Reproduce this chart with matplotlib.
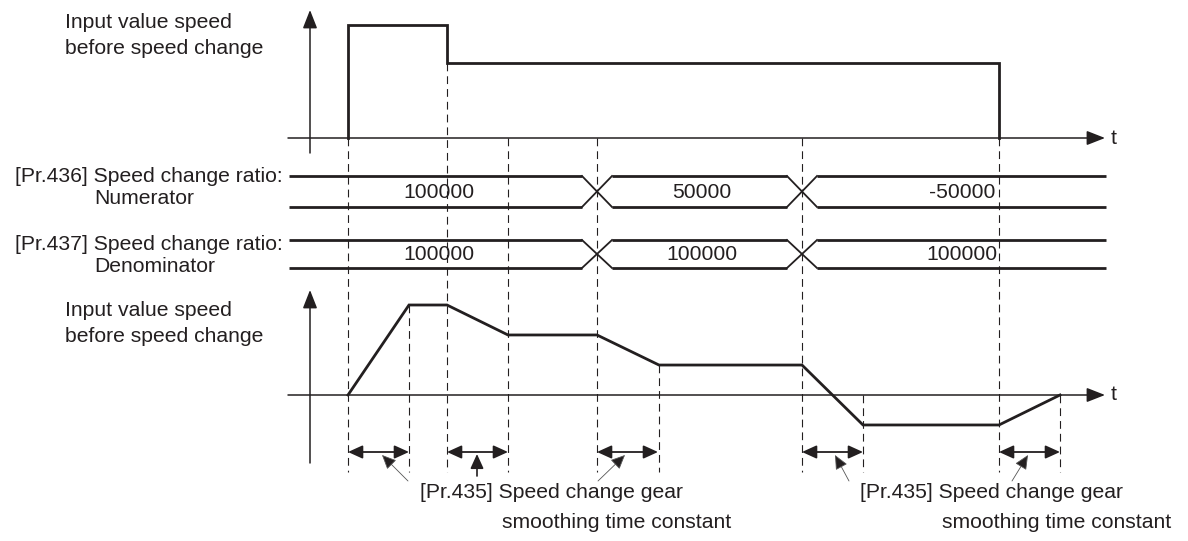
import matplotlib
matplotlib.use('Agg')
import matplotlib.pyplot as plt

plt.rcParams['font.family'] = ['Liberation Sans', 'DejaVu Sans']

# ---------------- data ----------------
# time axis: t = 0 at the start of the command (arbitrary time units)
in_t = [0, 0, 99, 99, 651, 651]                     # input value speed (command)
in_v = [0, 1.0, 1.0, 0.667, 0.667, 0]
out_t = [0, 61, 99, 160, 249, 311, 454, 515, 651, 712]   # speed after change (smoothed)
out_v = [0, 1.0, 1.0, 0.667, 0.667, 0.333, 0.333, -0.333, -0.333, 0]
ratio_change_t = [249, 454]
numerator_labels = ['100000', '50000', '-50000']
denominator_labels = ['100000', '100000', '100000']
value_label_t = [91, 354, 614]
smooth_start = [0, 99, 249, 454, 651]
smooth_len = 61
guide_top_t = [0, 99, 160, 249, 454, 651]
guide_top_v = [0, 0.667, 0, 0, 0, 0]
guide_bot_t = [61, 311, 515, 712]
guide_bot_v = [1.0, 0.333, 0, 0]

# ---------------- figure ----------------
W, H = 1188, 541
C = '#231f20'
FS = 15.2
X0 = 348  # pixel position of t = 0

fig = plt.figure(figsize=(W / 100, H / 100), dpi=100)

ax = fig.add_axes([0, 0, 1, 1])
ax.set_xlim(-X0, W - X0)
ax.set_ylim(H, 0)
ax.axis('off')


def speed_ax(zero_pix, ppu):
    a = fig.add_axes([0, 0, 1, 1])
    a.set_xlim(-X0, W - X0)
    a.set_ylim((zero_pix - H) / ppu, zero_pix / ppu)
    a.axis('off')
    a.patch.set_alpha(0)
    return a


ax_top = speed_ax(138, 113)
ax_bot = speed_ax(395, 90)


def to_lay(a, t, v):
    return ax.transData.inverted().transform(a.transData.transform((t, v)))[1]


def arrow(x0, y0, x1, y1, style='-|>', lw=1.1, hl=1.0, hw=0.3, color=C):
    ax.annotate('', xy=(x1, y1), xytext=(x0, y0),
                arrowprops=dict(arrowstyle=f'{style},head_length={hl},head_width={hw}',
                                color=color, lw=lw, shrinkA=0, shrinkB=0,
                                mutation_scale=8))


YAX = 310 - X0
TL, TR = 288 - X0, 1105 - X0

# axes of the two speed charts
for zero, top, bot in [(138, 10, 153), (395, 290, 463)]:
    arrow(YAX, bot, YAX, top, lw=1.1, hl=1.4, hw=0.55)
    arrow(TL, zero, TR, zero, lw=1.1, hl=1.4, hw=0.55)
    ax.text(TR + 6, zero, 't', fontsize=FS, color=C, va='center', ha='left')

# guide lines (dashed)
dash = dict(color=C, lw=0.8, linestyle=(0, (7, 4.5)))
GB = 472
for t, v in zip(guide_top_t, guide_top_v):
    ax.plot([t, t], [to_lay(ax_top, t, v), GB], **dash)
for t, v in zip(guide_bot_t, guide_bot_v):
    y = min(to_lay(ax_bot, t, v), to_lay(ax_bot, t, 0))
    ax.plot([t, t], [y, GB], **dash)

# speed curves
ax_top.plot(in_t, in_v, color=C, lw=2.0, solid_joinstyle='miter')
ax_bot.plot(out_t, out_v, color=C, lw=2.0, solid_joinstyle='miter')

# ratio bands
BL, BR = 289 - X0, 1106 - X0
HW = 15
for (ytop, ybot), labels in [((176, 207), numerator_labels),
                              ((240, 268), denominator_labels)]:
    edges = [BL] + [c for c in ratio_change_t] + [BR]
    for i in range(len(edges) - 1):
        a = edges[i] + (HW if i > 0 else 0)
        b = edges[i + 1] - (HW if i < len(edges) - 2 else 0)
        ax.plot([a, b], [ytop, ytop], color=C, lw=2.0, solid_capstyle='butt')
        ax.plot([a, b], [ybot, ybot], color=C, lw=2.0, solid_capstyle='butt')
    for c in ratio_change_t:
        ax.plot([c - HW, c + HW], [ytop, ybot], color=C, lw=1.3)
        ax.plot([c - HW, c + HW], [ybot, ytop], color=C, lw=1.3)
    for t, s in zip(value_label_t, labels):
        ax.text(t, (ytop + ybot) / 2 + 1, s, fontsize=FS, color=C, ha='center', va='center')

# left labels
ax.text(65 - X0, 23, 'Input value speed', fontsize=FS, color=C, va='center')
ax.text(65 - X0, 49, 'before speed change', fontsize=FS, color=C, va='center')
ax.text(65 - X0, 311, 'Input value speed', fontsize=FS, color=C, va='center')
ax.text(65 - X0, 336, 'before speed change', fontsize=FS, color=C, va='center')
ax.text(283 - X0, 176, '[Pr.436] Speed change ratio:', fontsize=FS, color=C, va='center', ha='right')
ax.text(94 - X0, 199, 'Numerator', fontsize=FS, color=C, va='center')
ax.text(283 - X0, 244, '[Pr.437] Speed change ratio:', fontsize=FS, color=C, va='center', ha='right')
ax.text(94 - X0, 267, 'Denominator', fontsize=FS, color=C, va='center')

# smoothing time constant arrows
YA = 452
for s in smooth_start:
    arrow(s, YA, s + smooth_len, YA, style='<|-|>', lw=1.3, hl=1.1, hw=0.5)

# leaders
leaders = [((408, 481), (382, 455), 0.6, '#555555'),
           ((477, 476), (477, 454), 1.2, C),
           ((598, 481), (625, 455), 0.6, '#555555'),
           ((849, 481), (835, 455), 0.6, '#555555'),
           ((1012, 481), (1028, 455), 0.6, '#555555')]
for (x0, y0), (x1, y1), lw, col in leaders:
    ax.annotate('', xy=(x1 - X0, y1), xytext=(x0 - X0, y0),
                arrowprops=dict(arrowstyle='-|>,head_length=1.1,head_width=0.5',
                                color=col, lw=lw, shrinkA=0, shrinkB=0,
                                mutation_scale=8, fc=C, ec=col))

for x in [420, 860]:
    ax.text(x - X0, 493, '[Pr.435] Speed change gear', fontsize=FS, color=C, va='center')
    ax.text(x + 82 - X0, 522, 'smoothing time constant', fontsize=FS, color=C, va='center')

fig.savefig('out.png', dpi=100)
